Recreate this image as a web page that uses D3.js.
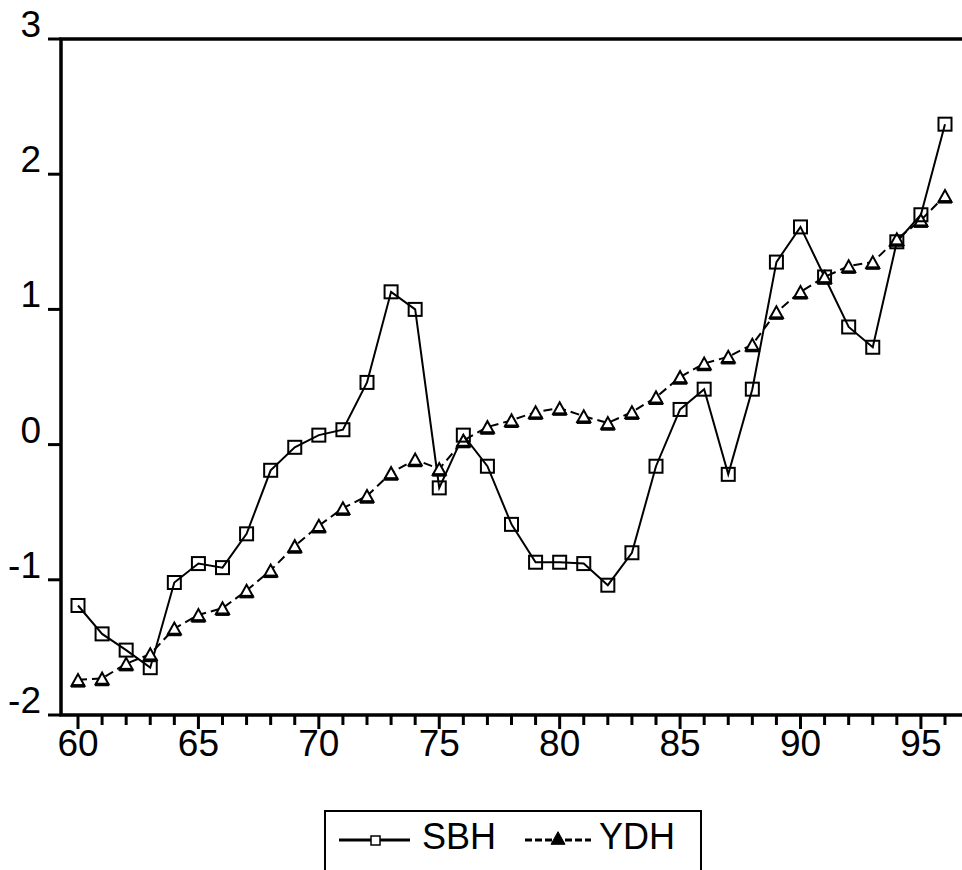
<!DOCTYPE html>
<html lang="en">
<head>
<meta charset="UTF-8">
<title>SBH / YDH</title>
<script src="https://cdn.jsdelivr.net/npm/d3@7/dist/d3.min.js"></script>
<style>
  html, body { margin: 0; padding: 0; background: #fff; }
  svg text { font-family: "Liberation Sans", Arial, sans-serif; fill: #000; }
</style>
</head>
<body>
<svg id="chart" width="962" height="870"></svg>
<script>
// years 1960..1996 (shown as 60..96)
var years = d3.range(60, 97);
var sbh = [-1.19, -1.40, -1.52, -1.65, -1.02, -0.88, -0.91, -0.66, -0.19, -0.02,
           0.07, 0.11, 0.46, 1.13, 1.00, -0.32, 0.07, -0.16, -0.59, -0.87,
           -0.87, -0.88, -1.04, -0.80, -0.16, 0.26, 0.41, -0.22, 0.41, 1.35,
           1.61, 1.24, 0.87, 0.72, 1.50, 1.70, 2.37];
var ydh = [-1.74, -1.73, -1.62, -1.55, -1.36, -1.26, -1.21, -1.08, -0.93, -0.75,
           -0.60, -0.47, -0.38, -0.21, -0.11, -0.18, 0.03, 0.13, 0.18, 0.24,
           0.27, 0.21, 0.16, 0.24, 0.35, 0.50, 0.60, 0.65, 0.74, 0.98,
           1.13, 1.24, 1.32, 1.35, 1.52, 1.66, 1.84];
var yTicks = [-2, -1, 0, 1, 2, 3];
var xLabels = [60, 65, 70, 75, 80, 85, 90, 95];
var seriesNames = ["SBH", "YDH"];

var svg = d3.select("#chart");

// plot frame (note: "top" is reserved on window, so use a prefix)
var pLeft = 61, pTop = 39, pRight = 962, pBottom = 715;

var x = d3.scaleLinear().domain([60, 96]).range([78, 945]);
var y = d3.scaleLinear().domain([-2, 3]).range([pBottom, pTop]);

// frame lines: top, left, bottom
svg.append("path")
  .attr("d", "M" + pRight + "," + pTop + "H" + pLeft + "V" + pBottom + "H" + pRight)
  .attr("fill", "none").attr("stroke", "#000").attr("stroke-width", 3.5);

// y ticks + labels (label sits on top of the tick, EViews style)
var yg = svg.append("g");
yg.selectAll("line").data(yTicks).join("line")
  .attr("x1", 48).attr("x2", pLeft)
  .attr("y1", d => y(d)).attr("y2", d => y(d))
  .attr("stroke", "#000").attr("stroke-width", 3);
yg.selectAll("text").data(yTicks).join("text")
  .attr("x", 41).attr("y", d => y(d) - 2)
  .attr("text-anchor", "end")
  .attr("font-size", 37)
  .text(d => d);

// x ticks: every year, longer at labelled years
var xg = svg.append("g");
xg.selectAll("line").data(years).join("line")
  .attr("x1", d => x(d)).attr("x2", d => x(d))
  .attr("y1", pBottom).attr("y2", d => pBottom + (d % 5 === 0 ? 14 : 10))
  .attr("stroke", "#000").attr("stroke-width", 3);
xg.selectAll("text").data(xLabels).join("text")
  .attr("x", d => x(d)).attr("y", 756)
  .attr("text-anchor", "middle")
  .attr("font-size", 37)
  .text(d => d);

// lines
var line = d3.line().x((d, i) => x(years[i])).y(d => y(d));

svg.append("path").datum(sbh)
  .attr("d", line).attr("fill", "none")
  .attr("stroke", "#000").attr("stroke-width", 2);

svg.append("path").datum(ydh)
  .attr("d", line).attr("fill", "none")
  .attr("stroke", "#000").attr("stroke-width", 2)
  .attr("stroke-dasharray", "9,5");

// markers
function triPath(cx, cy, s) {
  var h = s * 0.9;
  return "M" + (cx - s / 2) + "," + (cy + h / 2) + "L" + cx + "," + (cy - h / 2) +
         "L" + (cx + s / 2) + "," + (cy + h / 2) + "Z";
}

svg.append("g").selectAll("path").data(ydh).join("path")
  .attr("d", (d, i) => triPath(x(years[i]), y(d), 13))
  .attr("fill", "#fff").attr("stroke", "#000").attr("stroke-width", 2);
// thick base of the triangles
svg.append("g").selectAll("line").data(ydh).join("line")
  .attr("x1", (d, i) => x(years[i]) - 7).attr("x2", (d, i) => x(years[i]) + 7)
  .attr("y1", d => y(d) + 6).attr("y2", d => y(d) + 6)
  .attr("stroke", "#000").attr("stroke-width", 3.5);

svg.append("g").selectAll("rect").data(sbh).join("rect")
  .attr("x", (d, i) => x(years[i]) - 6.5).attr("y", d => y(d) - 6.5)
  .attr("width", 13).attr("height", 13)
  .attr("fill", "none").attr("stroke", "#000").attr("stroke-width", 2);

// legend
var lg = svg.append("g");
lg.append("rect")
  .attr("x", 325).attr("y", 811).attr("width", 376).attr("height", 80)
  .attr("fill", "none").attr("stroke", "#000").attr("stroke-width", 2);

lg.append("line").attr("x1", 339).attr("x2", 410).attr("y1", 840).attr("y2", 840)
  .attr("stroke", "#000").attr("stroke-width", 3);
lg.append("rect").attr("x", 371).attr("y", 836).attr("width", 9).attr("height", 9)
  .attr("fill", "#fff").attr("stroke", "#000").attr("stroke-width", 1.5);
lg.append("text").attr("x", 422).attr("y", 849).attr("font-size", 36).text(seriesNames[0]);

lg.append("line").attr("x1", 525).attr("x2", 591).attr("y1", 840).attr("y2", 840)
  .attr("stroke", "#000").attr("stroke-width", 3).attr("stroke-dasharray", "7,3");
lg.append("path").attr("d", triPath(558, 838, 14))
  .attr("fill", "#000").attr("stroke", "#000").attr("stroke-width", 1);
lg.append("text").attr("x", 599).attr("y", 849).attr("font-size", 36).text(seriesNames[1]);
</script>
</body>
</html>
